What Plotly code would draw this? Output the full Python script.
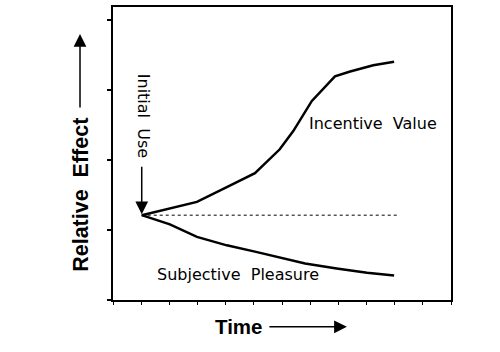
import plotly.graph_objects as go

# Data
incentive_x = [0.51, 0.95, 1.49, 2.02, 2.52, 2.96, 3.20, 3.53, 3.94, 4.21, 4.62, 4.99]
incentive_y = [1.21, 1.30, 1.40, 1.61, 1.81, 2.15, 2.41, 2.84, 3.19, 3.26, 3.35, 3.40]
pleasure_x = [0.51, 1.01, 1.49, 2.02, 2.52, 3.02, 3.41, 3.97, 4.51, 4.99]
pleasure_y = [1.21, 1.08, 0.90, 0.78, 0.69, 0.59, 0.52, 0.45, 0.39, 0.35]
baseline_x = [0.51, 5.09]
baseline_y = [1.21, 1.21]
labels = ["Incentive  Value", "Subjective  Pleasure", "Initial  Use"]
axis_titles = ["Relative  Effect", "Time"]

fig = go.Figure()
fig.add_trace(go.Scatter(x=baseline_x, y=baseline_y, mode="lines",
                         line=dict(color="black", width=1, dash="3px,3px"),
                         hoverinfo="skip"))
fig.add_trace(go.Scatter(x=incentive_x, y=incentive_y, mode="lines",
                         line=dict(color="black", width=2.5), name=labels[0]))
fig.add_trace(go.Scatter(x=pleasure_x, y=pleasure_y, mode="lines",
                         line=dict(color="black", width=2.5), name=labels[1]))

lab_font = dict(family="DejaVu Sans", size=16, color="black")
big_font = dict(family="Liberation Sans", size=21.5, color="black", weight="bold")
time_font = dict(family="Liberation Sans", size=20.5, color="black", weight="bold")

arrow = dict(text="", showarrow=True, arrowhead=2, arrowsize=1.7, arrowwidth=1.5,
             arrowcolor="black")
ctr = dict(xanchor="center", yanchor="middle", showarrow=False)

annotations = [
    dict(x=4.62, y=2.52, xref="x", yref="y", text=labels[0], font=lab_font, **ctr),
    dict(x=2.22, y=0.36, xref="x", yref="y", text=labels[1], font=lab_font, **ctr),
    dict(x=0.53, y=2.63, xref="x", yref="y", text=labels[2], font=lab_font,
         textangle=90, **ctr),
    # Initial use arrow
    dict(x=incentive_x[0], y=incentive_y[0], xref="x", yref="y", ax=0, ay=-50,
         standoff=1, **arrow),
    # Axis titles
    dict(x=-0.0947, y=0.359, xref="paper", yref="paper", text=axis_titles[0],
         font=big_font, textangle=-90, **ctr),
    dict(x=-0.0976, y=0.908, xref="paper", yref="paper", ax=0, ay=75, **arrow),
    dict(x=0.370, y=-0.0915, xref="paper", yref="paper", text=axis_titles[1],
         font=time_font, **ctr),
    dict(x=0.692, y=-0.0915, xref="paper", yref="paper", ax=-79, ay=0, **arrow),
]

fig.update_layout(
    width=500, height=352,
    margin=dict(l=113, r=49, t=5, b=52),
    paper_bgcolor="white", plot_bgcolor="white",
    showlegend=False,
    annotations=annotations,
    xaxis=dict(range=[0, 6], dtick=0.5, tick0=0, ticks="outside", ticklen=3,
               tickwidth=1, tickcolor="black", showticklabels=False,
               showgrid=False, zeroline=False, showline=True, linecolor="black",
               linewidth=1.5, mirror=True),
    yaxis=dict(range=[0, 4.18], dtick=1, tick0=0, ticks="outside", ticklen=4,
               tickwidth=1.5, tickcolor="black", showticklabels=False,
               showgrid=False, zeroline=False, showline=True, linecolor="black",
               linewidth=1.5, mirror=True),
)

fig.write_html("out.html")
